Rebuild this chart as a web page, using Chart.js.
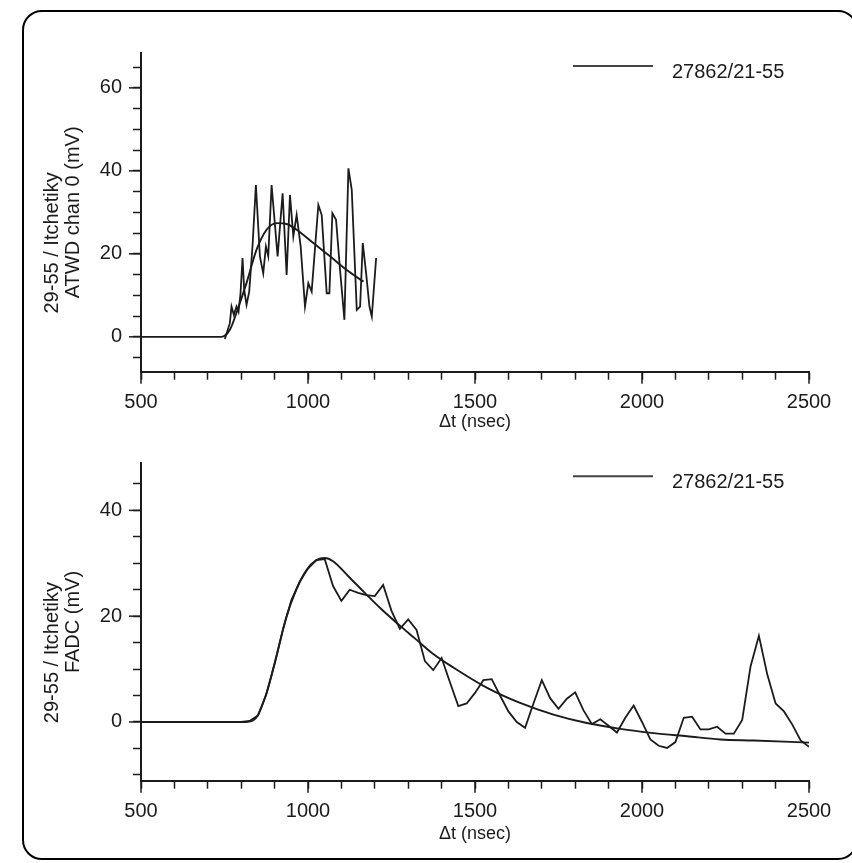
<!DOCTYPE html>
<html>
<head>
<meta charset="utf-8">
<script src="https://cdn.jsdelivr.net/npm/chart.js@4.4.1/dist/chart.umd.min.js"></script>
<style>
html, body { margin: 0; padding: 0; background: #fff; }
#page { position: relative; width: 852px; height: 863px; overflow: hidden; }
#frame { position: absolute; left: 22px; top: 10px; width: 832px; height: 846px; border: 2px solid #000; border-radius: 20px; }
#top { position: absolute; left: 0; top: 0; }
#bottom { position: absolute; left: 0; top: 440px; }
</style>
</head>
<body>
<div id="page">
  <div id="frame"></div>
  <canvas id="top" width="852" height="440"></canvas>
  <canvas id="bottom" width="852" height="423"></canvas>
</div>
<script>
// ATWD waveform (ns, mV)
const atwdT = [751, 766, 771, 778, 786, 792, 798, 804, 809, 816, 824, 834, 844, 856, 866, 874, 881, 891, 909, 924, 936, 946, 956, 966, 978, 991, 1001, 1011, 1031, 1041, 1056, 1064, 1073, 1084, 1096, 1109, 1121, 1131, 1146, 1156, 1164, 1174, 1184, 1191, 1204];
const atwdV = [-0.5, 3.3, 7.3, 5.3, 7.3, 6, 10.5, 19, 11.3, 7.7, 10.9, 22, 36.6, 19.4, 15.3, 21.8, 19.4, 36.6, 19.4, 34.6, 14.9, 34.2, 24.2, 29.4, 21.8, 7.3, 12.9, 10.9, 31.8, 29.4, 10.5, 10.5, 29.8, 28.2, 16.1, 4.1, 40.6, 35.4, 6.5, 7.3, 22.6, 15.3, 7.3, 4.9, 19];
// ATWD fit curve
const atwdFitT = [500, 740, 766, 791, 816, 846, 876, 906, 936, 966, 1016, 1066, 1116, 1166];
const atwdFitV = [0, 0, 1.7, 7, 13, 21, 25.8, 27.4, 27.2, 25.8, 22.6, 19.4, 16.1, 13.3];

// FADC waveform, 25 ns bins
const fadcT = [500, 800, 825, 850, 875, 900, 925, 950, 975, 1000, 1025, 1050, 1075, 1100, 1125, 1150, 1175, 1200, 1225, 1250, 1275, 1300, 1325, 1350, 1375, 1400, 1425, 1450, 1475, 1500, 1525, 1550, 1575, 1600, 1625, 1650, 1675, 1700, 1725, 1750, 1775, 1800, 1825, 1850, 1875, 1900, 1925, 1950, 1975, 2000, 2025, 2050, 2075, 2100, 2125, 2150, 2175, 2200, 2225, 2250, 2275, 2300, 2325, 2350, 2375, 2400, 2425, 2450, 2475, 2500];
const fadcV = [0, 0, 0.2, 1.2, 5.2, 11, 17.5, 23, 26.5, 29, 30.6, 30.8, 25.7, 22.9, 25, 24.4, 24, 23.8, 25.9, 21, 17.6, 19.4, 17.4, 11.5, 9.8, 12.1, 7.5, 3, 3.5, 5.5, 7.9, 8.1, 5, 2, 0, -1.1, 3.5, 7.9, 4.5, 2.5, 4.4, 5.6, 2.2, -0.4, 0.5, -0.7, -2, 0.8, 3.1, 0, -3.3, -4.5, -4.9, -3.8, 0.8, 1, -1.4, -1.4, -0.9, -2.2, -2.2, 0.4, 10.5, 16.3, 9, 3.5, 2, -0.5, -3.5, -4.7];
// FADC fit curve
const fadcFitT = [500, 815, 845, 875, 905, 935, 965, 995, 1025, 1050, 1075, 1120, 1170, 1220, 1270, 1320, 1370, 1435, 1535, 1635, 1735, 1835, 1935, 2035, 2135, 2235, 2335, 2500];
const fadcFitV = [0, 0, 0.8, 5.3, 12.3, 19.8, 25, 28.7, 30.6, 31, 30.4, 27.6, 24.4, 21.3, 18.5, 15.8, 13.1, 10.3, 6.5, 3.6, 1.4, -0.2, -1.3, -2.1, -2.7, -3.3, -3.5, -3.9];

// ticks (all marks) and the labelled ones
const xTicks = [500, 600, 700, 800, 900, 1000, 1100, 1200, 1300, 1400, 1500, 1600, 1700, 1800, 1900, 2000, 2100, 2200, 2300, 2400, 2500];
const xLabels = [500, 1000, 1500, 2000, 2500];
const atwdYTicks = [-5, 0, 5, 10, 15, 20, 25, 30, 35, 40, 45, 50, 55, 60, 65];
const atwdYLabels = [0, 20, 40, 60];
const fadcYTicks = [-10, -5, 0, 5, 10, 15, 20, 25, 30, 35, 40, 45];
const fadcYLabels = [0, 20, 40];

const legendText = '27862/21-55';
const xTitle = 'Δt (nsec)';
const atwdTitle = ['29-55 / Itchetiky', 'ATWD chan 0 (mV)'];
const fadcTitle = ['29-55 / Itchetiky', 'FADC (mV)'];

const ink = '#1b1b1b';
const family = '"Liberation Sans", Arial, Helvetica, sans-serif';

function pts(xs, ys) {
    return xs.map((x, i) => ({ x: x, y: ys[i] }));
}

// first title line sits lower than the second in the original
function shiftFirst(lines) {
    return [lines[0] + ' '.repeat(11), lines[1]];
}

// longer tick marks at labelled values
const majorTicks = {
    id: 'majorTicks',
    afterDraw(chart, args, opts) {
        const ctx = chart.ctx;
        const xs = chart.scales.x, ys = chart.scales.y;
        ctx.save();
        ctx.strokeStyle = ink;
        ctx.lineWidth = 1.5;
        xLabels.forEach(v => {
            const px = xs.getPixelForValue(v);
            ctx.beginPath(); ctx.moveTo(px, xs.top); ctx.lineTo(px, xs.top + 12); ctx.stroke();
        });
        opts.yLabels.forEach(v => {
            const py = ys.getPixelForValue(v);
            ctx.beginPath(); ctx.moveTo(ys.right, py); ctx.lineTo(ys.right - 12, py); ctx.stroke();
        });
        ctx.restore();
    }
};

// legend drawn inside the plot, top right
const insideLegend = {
    id: 'insideLegend',
    afterDraw(chart) {
        const a = chart.chartArea, ctx = chart.ctx;
        const y = a.top + 13;
        const x0 = a.right - 236;
        ctx.save();
        ctx.strokeStyle = '#444';
        ctx.lineWidth = 2;
        ctx.beginPath(); ctx.moveTo(x0, y); ctx.lineTo(x0 + 80, y); ctx.stroke();
        ctx.fillStyle = ink;
        ctx.font = '20px ' + family;
        ctx.textBaseline = 'middle';
        ctx.textAlign = 'left';
        ctx.fillText(chart.data.datasets[0].label, x0 + 99, y + 6);
        ctx.restore();
    }
};

function buildPlot(id, wave, fit, yMin, yMax, yTicks, yLabels, yTitle, padTop, xHeight, xTitlePad) {
    return new Chart(document.getElementById(id), {
        type: 'line',
        data: {
            datasets: [
                { label: legendText, data: wave, borderColor: ink, borderWidth: 1.8, pointRadius: 0, tension: 0 },
                { label: 'fit', data: fit, borderColor: ink, borderWidth: 1.9, pointRadius: 0, cubicInterpolationMode: 'monotone' }
            ]
        },
        options: {
            responsive: false,
            animation: false,
            layout: { padding: { top: padTop, right: 43, left: 0, bottom: 0 } },
            plugins: {
                legend: { display: false },
                tooltip: { enabled: false },
                majorTicks: { yLabels: yLabels }
            },
            scales: {
                x: {
                    type: 'linear', min: 500, max: 2500,
                    afterFit: s => { s.height = xHeight; },
                    afterBuildTicks: s => { s.ticks = xTicks.map(v => ({ value: v })); },
                    ticks: {
                        autoSkip: false, maxRotation: 0, padding: 11,
                        font: { family: family, size: 20 }, color: ink,
                        callback: v => xLabels.includes(v) ? String(v) : ''
                    },
                    grid: { drawOnChartArea: false, drawTicks: true, tickLength: 8, tickColor: ink, tickWidth: 1.5 },
                    border: { color: ink, width: 2 },
                    title: { display: true, text: xTitle, color: ink, font: { family: family, size: 18 }, padding: { top: 0, bottom: xTitlePad } }
                },
                y: {
                    type: 'linear', min: yMin, max: yMax, bounds: 'data',
                    afterFit: s => { s.width = 141; },
                    afterBuildTicks: s => { s.ticks = yTicks.map(v => ({ value: v })); },
                    ticks: {
                        autoSkip: false, padding: 11,
                        font: { family: family, size: 20 }, color: ink,
                        callback: v => yLabels.includes(v) ? String(v) : ''
                    },
                    grid: { drawOnChartArea: false, drawTicks: true, tickLength: 8, tickColor: ink, tickWidth: 1.5 },
                    border: { color: ink, width: 2 },
                    title: { display: true, text: shiftFirst(yTitle), color: ink, font: { family: family, size: 20, lineHeight: 1.05 }, padding: { top: 42, bottom: 0 } }
                }
            }
        },
        plugins: [majorTicks, insideLegend]
    });
}

buildPlot('top', pts(atwdT, atwdV), pts(atwdFitT, atwdFitV), -8.4, 68.4, atwdYTicks, atwdYLabels, atwdTitle, 53, 68.3, 7);
buildPlot('bottom', pts(fadcT, fadcV), pts(fadcFitT, fadcFitV), -11.1, 48.9, fadcYTicks, fadcYLabels, fadcTitle, 23.3, 82.3, 18);
</script>
</body>
</html>
